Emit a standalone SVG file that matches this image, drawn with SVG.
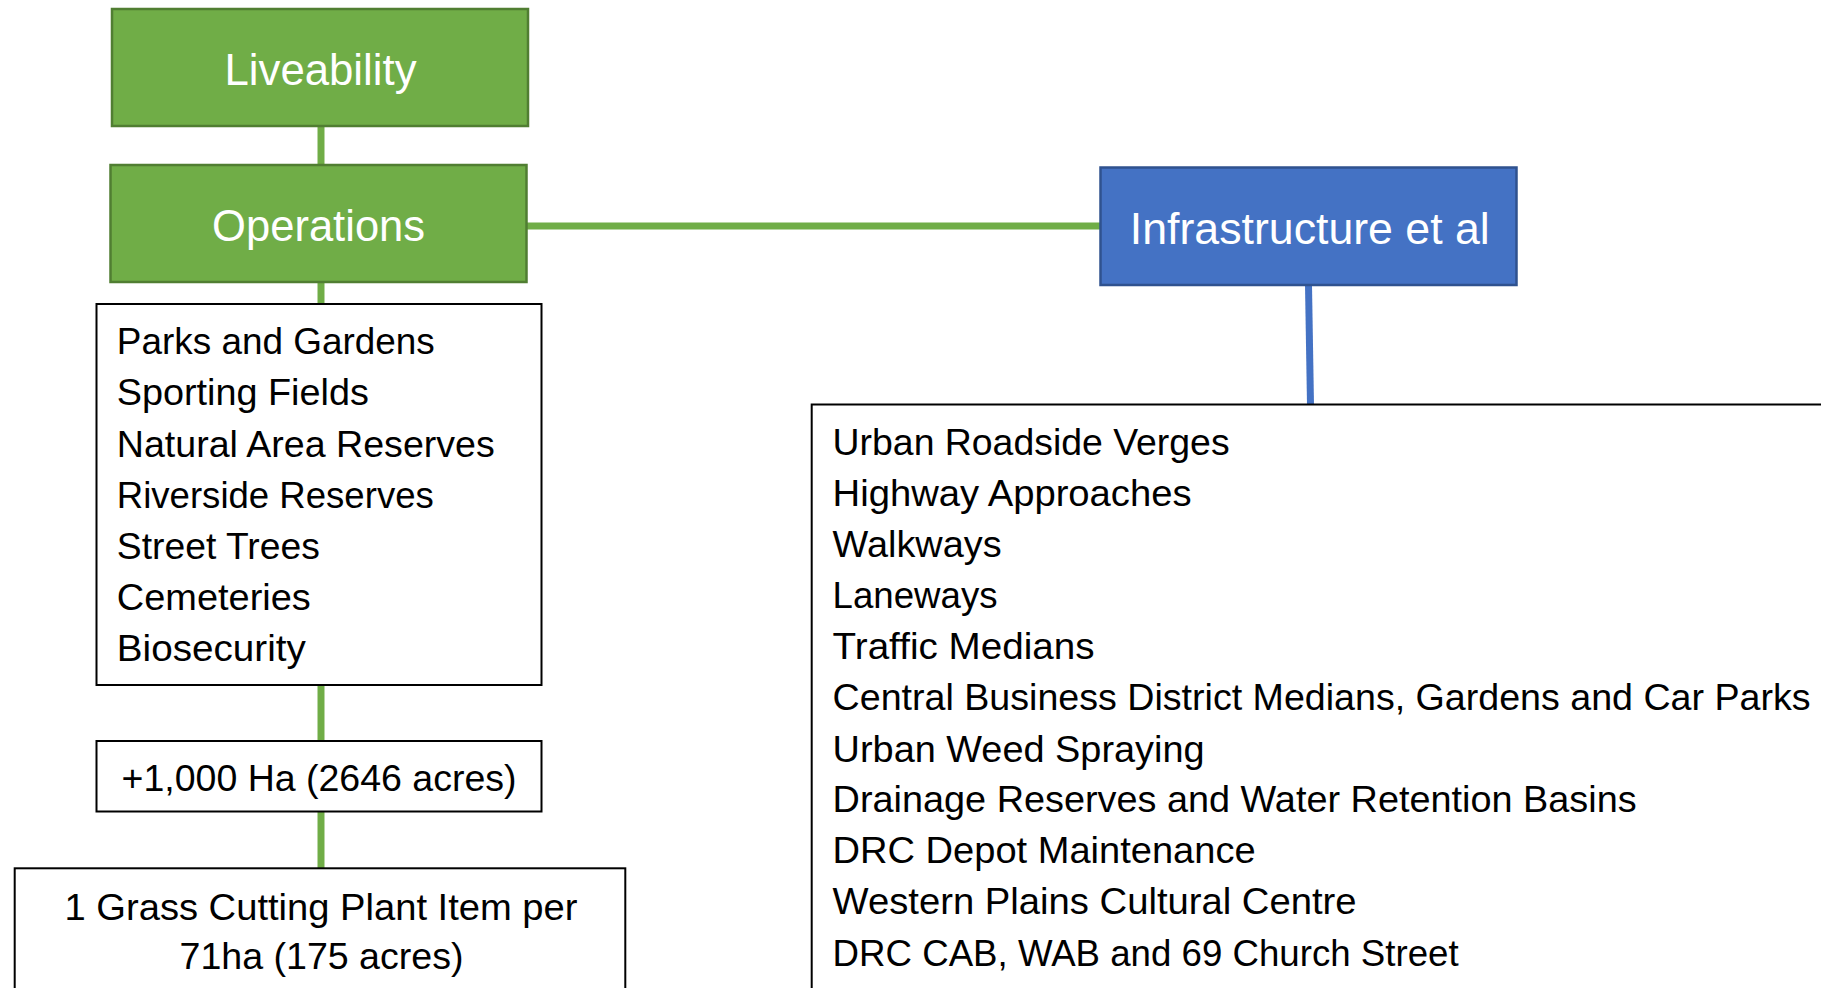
<svg xmlns="http://www.w3.org/2000/svg" width="1821" height="988" viewBox="0 0 1821 988">
<style>
.green{fill:#70AD47;stroke:#507E32;stroke-width:2.5}
.blue{fill:#4472C4;stroke:#2F528F;stroke-width:2.5}
.plain{fill:#FFFFFF;stroke:#000000;stroke-width:2}
.hdr{font-family:"Liberation Sans",Arial,sans-serif;font-size:44px;fill:#FFFFFF;text-anchor:middle}
.txt{font-family:"Liberation Sans",Arial,sans-serif;font-size:37px;fill:#000000}
.mid{text-anchor:middle}
.cg{stroke:#70AD47;stroke-width:7;fill:none}
.cb{stroke:#4472C4;stroke-width:7;fill:none}
</style>
<rect width="1821" height="988" fill="#FFFFFF"/>
<g id="connectors">
<line class="cg" x1="321" y1="126" x2="321" y2="165"/>
<line class="cg" x1="321" y1="282" x2="321" y2="304"/>
<line class="cg" x1="321" y1="685" x2="321" y2="741"/>
<line class="cg" x1="321" y1="811" x2="321" y2="868"/>
<line class="cg" x1="527" y1="226" x2="1100" y2="226"/>
<line class="cb" x1="1308.5" y1="285" x2="1310.5" y2="405"/>
</g>
<g id="liveability">
<rect class="green" x="112" y="9" width="416" height="117"/>
<text class="hdr" x="320.5" y="85" textLength="192" lengthAdjust="spacingAndGlyphs">Liveability</text>
</g>
<g id="operations">
<rect class="green" x="110.5" y="165" width="416" height="117"/>
<text class="hdr" x="318.6" y="241" textLength="213" lengthAdjust="spacingAndGlyphs">Operations</text>
</g>
<g id="infrastructure">
<rect class="blue" x="1100.5" y="167.5" width="416" height="117.5"/>
<text class="hdr" x="1309.8" y="244" textLength="360" lengthAdjust="spacingAndGlyphs">Infrastructure et al</text>
</g>
<g id="operations-list">
<rect class="plain" x="96.5" y="304" width="445" height="381"/>
<text class="txt" x="116.8" y="354" textLength="318" lengthAdjust="spacingAndGlyphs">Parks and Gardens</text>
<text class="txt" x="116.8" y="405" textLength="252" lengthAdjust="spacingAndGlyphs">Sporting Fields</text>
<text class="txt" x="116.8" y="456.5" textLength="378" lengthAdjust="spacingAndGlyphs">Natural Area Reserves</text>
<text class="txt" x="116.8" y="507.5" textLength="317" lengthAdjust="spacingAndGlyphs">Riverside Reserves</text>
<text class="txt" x="116.8" y="558.5" textLength="203" lengthAdjust="spacingAndGlyphs">Street Trees</text>
<text class="txt" x="116.8" y="609.5" textLength="194" lengthAdjust="spacingAndGlyphs">Cemeteries</text>
<text class="txt" x="116.8" y="660.5" textLength="189" lengthAdjust="spacingAndGlyphs">Biosecurity</text>
</g>
<g id="area">
<rect class="plain" x="96.5" y="741" width="445" height="70.5"/>
<text class="txt mid" x="319" y="791" textLength="395" lengthAdjust="spacingAndGlyphs">+1,000 Ha (2646 acres)</text>
</g>
<g id="grass">
<rect class="plain" x="14.7" y="868.3" width="610.6" height="140"/>
<text class="txt mid" x="321" y="920" textLength="513" lengthAdjust="spacingAndGlyphs">1 Grass Cutting Plant Item per</text>
<text class="txt mid" x="321.5" y="969" textLength="284" lengthAdjust="spacingAndGlyphs">71ha (175 acres)</text>
</g>
<g id="infrastructure-list">
<rect class="plain" x="811.7" y="404.5" width="1030" height="620"/>
<text class="txt" x="832.6" y="455" textLength="397" lengthAdjust="spacingAndGlyphs">Urban Roadside Verges</text>
<text class="txt" x="832.6" y="506" textLength="359" lengthAdjust="spacingAndGlyphs">Highway Approaches</text>
<text class="txt" x="832.6" y="557" textLength="169" lengthAdjust="spacingAndGlyphs">Walkways</text>
<text class="txt" x="832.6" y="608" textLength="165" lengthAdjust="spacingAndGlyphs">Laneways</text>
<text class="txt" x="832.6" y="659" textLength="262" lengthAdjust="spacingAndGlyphs">Traffic Medians</text>
<text class="txt" x="832.6" y="710" textLength="978" lengthAdjust="spacingAndGlyphs">Central Business District Medians, Gardens and Car Parks</text>
<text class="txt" x="832.6" y="761.5" textLength="372" lengthAdjust="spacingAndGlyphs">Urban Weed Spraying</text>
<text class="txt" x="832.6" y="812" textLength="804" lengthAdjust="spacingAndGlyphs">Drainage Reserves and Water Retention Basins</text>
<text class="txt" x="832.6" y="863" textLength="423" lengthAdjust="spacingAndGlyphs">DRC Depot Maintenance</text>
<text class="txt" x="832.6" y="914" textLength="524" lengthAdjust="spacingAndGlyphs">Western Plains Cultural Centre</text>
<text class="txt" x="832.6" y="965.5" textLength="626" lengthAdjust="spacingAndGlyphs">DRC CAB, WAB and 69 Church Street</text>
</g>
</svg>
